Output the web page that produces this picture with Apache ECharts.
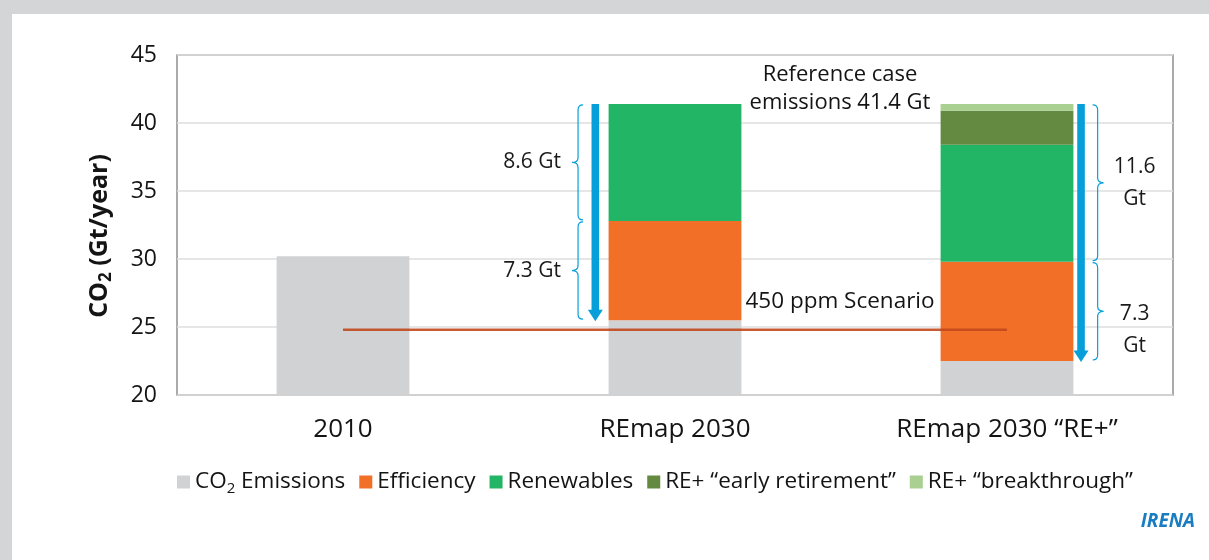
<!DOCTYPE html>
<html>
<head>
<meta charset="utf-8">
<script src="https://cdn.jsdelivr.net/npm/echarts@6/dist/echarts.min.js"></script>
<style>
  html,body{margin:0;padding:0;background:#d4d5d7;}
  .frame{position:absolute;left:12px;top:14px;right:0;bottom:0;background:#fff;}
  #chart{position:absolute;left:0;top:0;width:1209px;height:560px;}
</style>
</head>
<body>
<div class="frame"></div>
<div id="chart"></div>
<script>
// data
var categories = ['2010', 'REmap 2030', 'REmap 2030 “RE+”'];
var co2Emissions = [30.2, 25.5, 22.5];
var efficiency = ['-', 7.3, 7.3];
var renewables = ['-', 8.6, 8.6];
var earlyRetirement = ['-', '-', 2.5];
var breakthrough = ['-', '-', 0.5];
var scenario450 = [24.8, 24.8, 24.8];
var yMin = 20, yMax = 45, yStep = 5;
// arrows: [category, from, to]
var arrows = [[1, 41.4, 25.5], [2, 41.4, 22.5]];
// braces: [category, low, high]
var braces = [[1, 32.8, 41.4], [1, 25.5, 32.8], [2, 29.8, 41.4], [2, 22.5, 29.8]];
var braceLabels = ['8.6 Gt', '7.3 Gt', '11.6\nGt', '7.3\nGt'];

var FONT = '"Open Sans", sans-serif';
var BLUE = '#069fd9';
var arrowOffset = {1: -0.24, 2: 0.223};   // share of band width from bar centre
var braceOffset = {1: -0.292, 2: 0.273};
var braceLabelDy = [0, 0, 0, 19];

var chart = echarts.init(document.getElementById('chart'));

function renderArrow(params, api) {
  var cat = api.value(0);
  var top = api.coord([cat, api.value(1)]);
  var bot = api.coord([cat, api.value(2)]);
  var band = api.size([1, 0])[0];
  var x = top[0] + arrowOffset[cat] * band;
  var headH = 10, headW = 7.5;
  return {
    type: 'group',
    children: [
      {type: 'rect', shape: {x: x - 3.8, y: top[1], width: 7.6, height: bot[1] - top[1] - headH}, style: {fill: BLUE}},
      {type: 'polygon', shape: {points: [[x - headW, bot[1] - headH - 0.5], [x + headW, bot[1] - headH - 0.5], [x, bot[1] + 1]]}, style: {fill: BLUE}}
    ]
  };
}

function renderBrace(params, api) {
  var i = params.dataIndex;
  var cat = api.value(0);
  var lo = api.coord([cat, api.value(1)]);
  var hi = api.coord([cat, api.value(2)]);
  var band = api.size([1, 0])[0];
  var side = cat === 1 ? -1 : 1;
  var x = lo[0] + braceOffset[cat] * band;
  var y1 = hi[1] + 1, y2 = lo[1] - 1, ym = (y1 + y2) / 2;
  var c = 5, t = 6;
  var path = 'M' + (x - side * c) + ',' + y1 + ' Q' + x + ',' + y1 + ' ' + x + ',' + (y1 + c) +
    ' L' + x + ',' + (ym - c) + ' Q' + x + ',' + ym + ' ' + (x + side * t) + ',' + ym +
    ' Q' + x + ',' + ym + ' ' + x + ',' + (ym + c) +
    ' L' + x + ',' + (y2 - c) + ' Q' + x + ',' + y2 + ' ' + (x - side * c) + ',' + y2;
  var tx = side < 0 ? x - t - 11 : x + t + 31;
  return {
    type: 'group',
    children: [
      {type: 'path', shape: {pathData: path}, style: {fill: null, stroke: BLUE, lineWidth: 1.2}},
      {type: 'text', style: {
        text: braceLabels[i], x: tx, y: ym + braceLabelDy[i],
        align: side < 0 ? 'right' : 'center', verticalAlign: 'middle',
        textAlign: side < 0 ? 'right' : 'center', textVerticalAlign: 'middle',
        font: '500 21px ' + FONT, fill: '#1a1a1a', lineHeight: 32
      }}
    ]
  };
}

var option = {
  animation: false,
  grid: {left: 177, right: 36, top: 55, bottom: 165, show: true, borderColor: '#8f8f8f', borderWidth: 1.5},
  legend: {
    data: ['CO2 Emissions', 'Efficiency', 'Renewables', 'RE+ “early retirement”', 'RE+ “breakthrough”'],
    left: 172, top: 463,
    itemWidth: 13, itemHeight: 13, itemGap: 14,
    icon: 'rect',
    formatter: function (name) { return name === 'CO2 Emissions' ? 'CO{sub|2} Emissions' : name; },
    textStyle: {fontSize: 22.5, fontWeight: 500, fontFamily: FONT, color: '#141414', lineHeight: 28,
      rich: {sub: {fontSize: 15, lineHeight: 15, fontWeight: 500, verticalAlign: 'bottom'}}}
  },
  xAxis: {
    type: 'category', data: categories,
    axisLine: {show: false}, axisTick: {show: false},
    axisLabel: {fontSize: 26, fontWeight: 500, fontFamily: FONT, color: '#141414', margin: 22}
  },
  yAxis: {
    type: 'value', min: yMin, max: yMax, interval: yStep,
    name: 'CO{sub|2} (Gt/year)', nameLocation: 'middle', nameGap: 62,
    nameTextStyle: {fontSize: 25, fontWeight: 'bold', fontFamily: FONT, color: '#141414', lineHeight: 30,
      padding: [0, 22, 0, 0],
      rich: {sub: {fontSize: 17, lineHeight: 17, fontWeight: 'bold', verticalAlign: 'bottom'}}},
    axisLine: {show: false}, axisTick: {show: false},
    axisLabel: {fontSize: 23, fontWeight: 500, fontFamily: FONT, color: '#141414', margin: 20},
    splitLine: {lineStyle: {color: '#dedede', width: 1.5}}
  },
  series: [
    {name: 'CO2 Emissions', type: 'bar', stack: 'total', barWidth: '40%', data: co2Emissions, itemStyle: {color: '#d1d2d4'}},
    {name: 'Efficiency', type: 'bar', stack: 'total', data: efficiency, itemStyle: {color: '#f26f27'}},
    {name: 'Renewables', type: 'bar', stack: 'total', data: renewables, itemStyle: {color: '#23b566'}},
    {name: 'RE+ “early retirement”', type: 'bar', stack: 'total', data: earlyRetirement, itemStyle: {color: '#648a42'}},
    {name: 'RE+ “breakthrough”', type: 'bar', stack: 'total', data: breakthrough, itemStyle: {color: '#a9cf91'}},
    {name: '450 ppm', type: 'line', data: scenario450, symbol: 'none', silent: true, z: 5,
      lineStyle: {color: '#c1471d', width: 2.5, opacity: 0.9}},
    {name: 'arrows', type: 'custom', data: arrows, renderItem: renderArrow, encode: {x: 0, y: [1, 2]}, z: 10, silent: true},
    {name: 'braces', type: 'custom', data: braces, renderItem: renderBrace, encode: {x: 0, y: [1, 2]}, z: 10, silent: true}
  ],
  graphic: [
    {type: 'text', x: 840, y: 89, style: {text: 'Reference case\nemissions 41.4 Gt', align: 'center', verticalAlign: 'middle',
      textAlign: 'center', textVerticalAlign: 'middle', font: '500 22px ' + FONT, fill: '#141414', lineHeight: 28}},
    {type: 'text', x: 840, y: 302, style: {text: '450 ppm Scenario', align: 'center', verticalAlign: 'middle',
      textAlign: 'center', textVerticalAlign: 'middle', font: '500 22.5px ' + FONT, fill: '#141414'}},
    {type: 'text', x: 1195, y: 522, style: {text: 'IRENA', align: 'right', verticalAlign: 'middle',
      textAlign: 'right', textVerticalAlign: 'middle', font: 'italic bold 19px ' + FONT, fill: '#1b7dc1'}}
  ]
};
chart.setOption(option);
</script>
</body>
</html>
